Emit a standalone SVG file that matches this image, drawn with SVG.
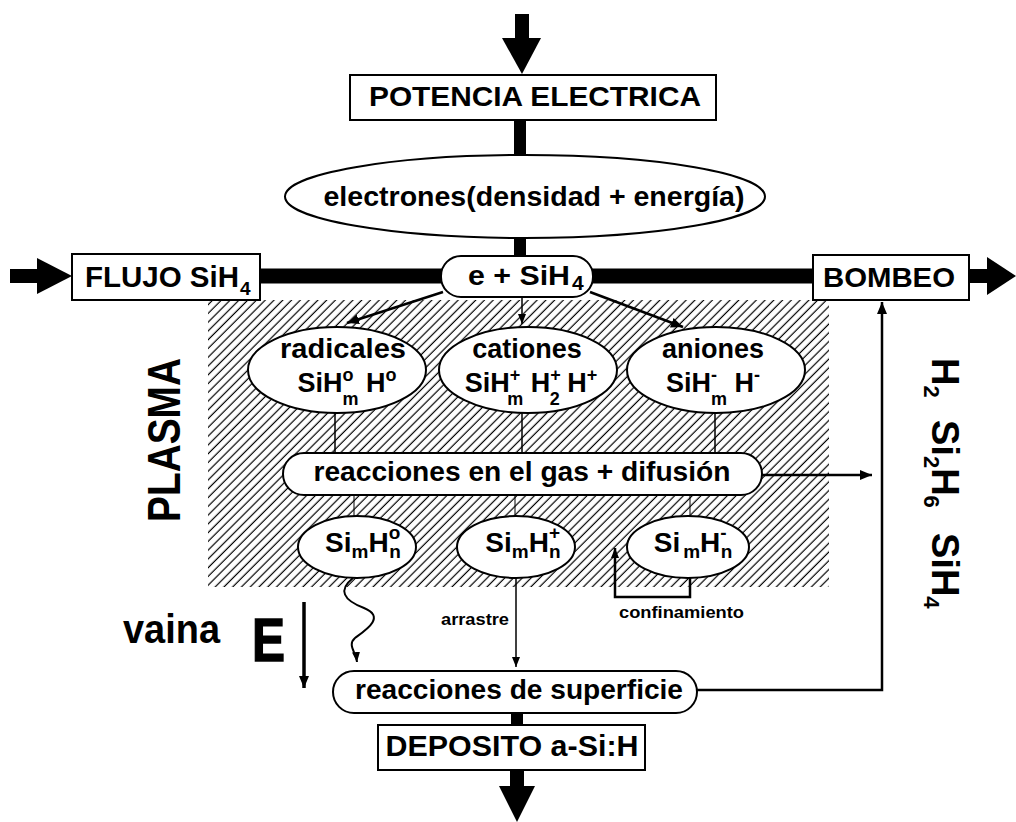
<svg xmlns="http://www.w3.org/2000/svg" width="1016" height="822" viewBox="0 0 1016 822">
<defs>
<style>
.t{font-family:"Liberation Sans",Arial,Helvetica,sans-serif;font-weight:bold;fill:#000}
.box{fill:#fff;stroke:#000;stroke-width:2}
.thick{stroke:#000;stroke-width:12;fill:none}
.bar{stroke:#000;stroke-width:15;fill:none}
.ln{stroke:#000;stroke-width:2.5;fill:none}
.thin{stroke:#000;stroke-width:1.5;fill:none}
.s{font-size:18px}
</style>
<pattern id="hatch" patternUnits="userSpaceOnUse" width="6.2" height="6.2" patternTransform="rotate(45)">
<line x1="3" y1="0" x2="3" y2="6.2" stroke="#000" stroke-width="1.2"/>
</pattern>
<marker id="ah" viewBox="0 0 12 10" refX="12" refY="5" markerWidth="12" markerHeight="10" markerUnits="userSpaceOnUse" orient="auto">
<path d="M0,0 L12,5 L0,10 z" fill="#000"/>
</marker>
<marker id="ahs" viewBox="0 0 10 8" refX="10" refY="4" markerWidth="10" markerHeight="8" markerUnits="userSpaceOnUse" orient="auto">
<path d="M0,0 L10,4 L0,8 z" fill="#000"/>
</marker>
</defs>
<rect width="1016" height="822" fill="#fff"/>

<rect id="plasma-zone" x="208" y="300" width="621" height="287" fill="url(#hatch)"/>

<g id="connectors">
<rect x="515" y="14" width="14" height="28" fill="#000"/>
<polygon points="502,38 541,38 522,74" fill="#000"/>
<line class="thick" x1="520" y1="119" x2="520" y2="156"/>
<line class="thick" x1="520" y1="237" x2="520" y2="257"/>
<line class="bar" x1="259" y1="276" x2="442" y2="276"/>
<line class="bar" x1="592" y1="276" x2="814" y2="276"/>
<rect x="10" y="269" width="30" height="14" fill="#000"/>
<polygon points="37,258 37,294 72,276" fill="#000"/>
<rect x="968" y="269" width="22" height="14" fill="#000"/>
<polygon points="987,257 987,295 1016,276" fill="#000"/>
<line class="ln" x1="443" y1="292" x2="347" y2="323" marker-end="url(#ah)"/>
<line class="thin" x1="522" y1="297" x2="522" y2="324" marker-end="url(#ahs)"/>
<line class="ln" x1="590" y1="292" x2="683" y2="327" marker-end="url(#ah)"/>
<line class="thin" x1="335" y1="412" x2="335" y2="454"/>
<line class="thin" x1="522" y1="412" x2="522" y2="454"/>
<line class="thin" x1="715" y1="412" x2="715" y2="454"/>
<line stroke="#000" stroke-width="1" x1="354" y1="495" x2="354" y2="517"/>
<line stroke="#000" stroke-width="1" x1="515" y1="495" x2="515" y2="517"/>
<line stroke="#000" stroke-width="1" x1="690" y1="495" x2="690" y2="517"/>
<line class="ln" x1="762" y1="475" x2="872" y2="475" marker-end="url(#ah)"/>
<path stroke="#000" stroke-width="2" fill="none" d="M353,578 C338,590 343,600 364,608 C386,617 366,630 355,638 C347,645 356,652 357,662" marker-end="url(#ahs)"/>
<line class="thin" x1="516" y1="578" x2="516" y2="667" marker-end="url(#ahs)"/>
<polyline class="ln" points="690,577 690,597 615,597 615,548" marker-end="url(#ahs)"/>
<line stroke="#000" stroke-width="3.5" x1="304" y1="602" x2="304" y2="688" marker-end="url(#ah)"/>
<polyline class="ln" points="697,690 882,690 882,302" marker-end="url(#ah)"/>
<line class="thick" x1="517" y1="712" x2="517" y2="726"/>
<rect x="510" y="769" width="14" height="20" fill="#000"/>
<polygon points="499,786 535,786 517,822" fill="#000"/>
</g>

<g id="potencia">
<rect class="box" x="350" y="75" width="366" height="45"/>
<text class="t" x="535" y="106" font-size="28" text-anchor="middle" textLength="332" lengthAdjust="spacingAndGlyphs">POTENCIA ELECTRICA</text>
</g>
<g id="electrones">
<ellipse class="box" cx="525" cy="196.5" rx="240" ry="41.5"/>
<text class="t" x="534" y="206" font-size="27" text-anchor="middle" textLength="421" lengthAdjust="spacingAndGlyphs">electrones(densidad + energía)</text>
</g>
<g id="flujo">
<rect class="box" x="72" y="254" width="188" height="46"/>
<text class="t" x="85" y="287" font-size="29" textLength="154" lengthAdjust="spacingAndGlyphs">FLUJO SiH</text>
<text class="t" x="240" y="295" font-size="19">4</text>
</g>
<g id="e-sih4">
<rect class="box" x="441" y="256" width="152" height="41" rx="20"/>
<text class="t" x="468" y="285" font-size="27" textLength="102" lengthAdjust="spacingAndGlyphs">e + SiH</text>
<text class="t" x="572" y="290" font-size="21">4</text>
</g>
<g id="bombeo">
<rect class="box" x="813" y="255" width="156" height="45"/>
<text class="t" x="889" y="287" font-size="28" text-anchor="middle" textLength="132" lengthAdjust="spacingAndGlyphs">BOMBEO</text>
</g>
<g id="radicales">
<ellipse class="box" cx="337" cy="370" rx="89" ry="43"/>
<text class="t" x="343" y="358" font-size="27" text-anchor="middle" textLength="126" lengthAdjust="spacingAndGlyphs">radicales</text>
<text class="t" x="347" y="392" font-size="27" text-anchor="middle">SiH<tspan class="s" dy="-11">o</tspan><tspan class="s" dx="-11" dy="24">m</tspan><tspan dy="-13"> H</tspan><tspan class="s" dy="-11">o</tspan></text>
</g>
<g id="cationes">
<ellipse class="box" cx="528" cy="370" rx="89" ry="43"/>
<text class="t" x="527" y="358" font-size="27" text-anchor="middle">cationes</text>
<text class="t" x="531" y="392" font-size="27" text-anchor="middle">SiH<tspan class="s" dy="-11">+</tspan><tspan class="s" dx="-13" dy="24">m</tspan><tspan dy="-13"> H</tspan><tspan class="s" dy="-11">+</tspan><tspan class="s" dx="-11" dy="24">2</tspan><tspan dy="-13"> H</tspan><tspan class="s" dy="-11">+</tspan></text>
</g>
<g id="aniones">
<ellipse class="box" cx="716" cy="370" rx="89" ry="43"/>
<text class="t" x="713" y="358" font-size="27" text-anchor="middle">aniones</text>
<text class="t" x="713" y="392" font-size="27" text-anchor="middle">SiH<tspan class="s" dy="-11">-</tspan><tspan class="s" dx="-6" dy="24">m</tspan><tspan dy="-13"> H</tspan><tspan class="s" dy="-11">-</tspan></text>
</g>
<g id="reacciones-gas">
<rect class="box" x="283" y="453" width="479" height="42" rx="21"/>
<text class="t" x="522" y="481" font-size="28" text-anchor="middle" textLength="417" lengthAdjust="spacingAndGlyphs">reacciones en el gas + difusión</text>
</g>
<g id="simhn0">
<ellipse class="box" cx="357" cy="547" rx="59" ry="31"/>
<text class="t" x="363" y="552" font-size="28" text-anchor="middle">Si<tspan font-size="19" dy="6">m</tspan><tspan dy="-6">H</tspan><tspan font-size="19" dy="-13">o</tspan><tspan font-size="19" dx="-11" dy="19">n</tspan></text>
</g>
<g id="simhn-plus">
<ellipse class="box" cx="516" cy="547" rx="59" ry="31"/>
<text class="t" x="523" y="552" font-size="28" text-anchor="middle">Si<tspan font-size="19" dy="6">m</tspan><tspan dy="-6">H</tspan><tspan font-size="19" dy="-13">+</tspan><tspan font-size="19" dx="-11" dy="19">n</tspan></text>
</g>
<g id="simhn-minus">
<ellipse class="box" cx="688" cy="547" rx="61" ry="31"/>
<text class="t" x="693" y="552" font-size="28" text-anchor="middle">Si<tspan font-size="19" dx="3" dy="6">m</tspan><tspan dy="-6">H</tspan><tspan font-size="19" dy="-13">-</tspan><tspan font-size="19" dx="-6" dy="19">n</tspan></text>
</g>
<g id="reacciones-superficie">
<rect class="box" x="333" y="671" width="364" height="42" rx="21"/>
<text class="t" x="519" y="699" font-size="28" text-anchor="middle" textLength="328" lengthAdjust="spacingAndGlyphs">reacciones de superficie</text>
</g>
<g id="deposito">
<rect class="box" x="378" y="725" width="267" height="45"/>
<text class="t" x="512" y="756" font-size="30" text-anchor="middle" textLength="253" lengthAdjust="spacingAndGlyphs">DEPOSITO a-Si:H</text>
</g>

<g id="labels">
<text class="t" x="180" y="440" font-size="46" text-anchor="middle" transform="rotate(-90 180 440)" textLength="164" lengthAdjust="spacingAndGlyphs">PLASMA</text>
<text class="t" font-size="38" transform="translate(932,358) rotate(90)">H<tspan font-size="22" dy="8">2</tspan></text>
<text class="t" font-size="38" transform="translate(932,420) rotate(90)">Si<tspan font-size="22" dy="8">2</tspan><tspan dy="-8">H</tspan><tspan font-size="22" dy="8">6</tspan></text>
<text class="t" font-size="38" transform="translate(932,533) rotate(90)">SiH<tspan font-size="22" dy="8">4</tspan></text>
<text class="t" x="441" y="625" font-size="16" textLength="68" lengthAdjust="spacingAndGlyphs">arrastre</text>
<text class="t" x="619" y="618" font-size="17" textLength="125" lengthAdjust="spacingAndGlyphs">confinamiento</text>
<text class="t" x="123" y="643" font-size="40" textLength="97" lengthAdjust="spacingAndGlyphs">vaina</text>
<text class="t" x="252" y="661" font-size="62" stroke="#000" stroke-width="1.5" textLength="33" lengthAdjust="spacingAndGlyphs">E</text>
</g>
</svg>
